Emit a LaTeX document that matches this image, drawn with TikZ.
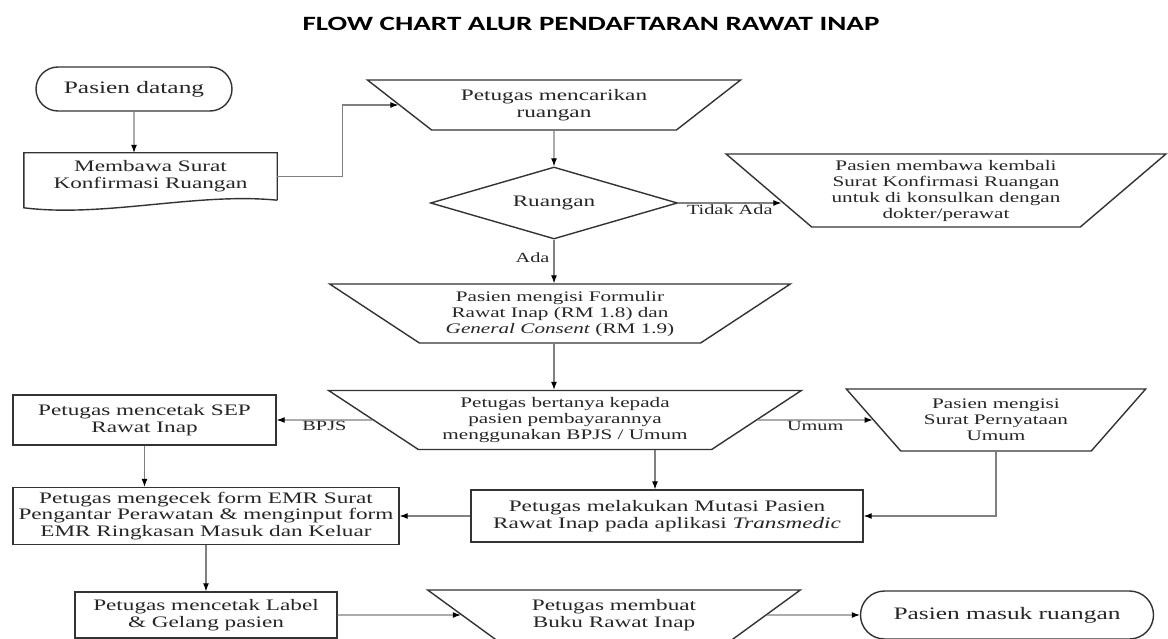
\documentclass[tikz,border=0pt]{standalone}
\usepackage{fontspec}
\setmainfont{Liberation Serif}[FakeStretch=1.45]
\newfontfamily\titlefont{Carlito}[FakeStretch=1.43]
\usetikzlibrary{shapes.geometric,shapes.misc,arrows.meta}

\begin{document}
\begin{tikzpicture}[
    x=1pt, y=-1pt,
    every node/.style={text=black!85, font=\fontsize{16}{16.7}\selectfont},
    outline/.style={draw=black!80, line width=1.4pt},
    base/.style={outline, align=center, inner sep=1pt},
    box/.style={base, rectangle},
    terminal/.style={base, rounded rectangle, font=\fontsize{17.5}{18}\selectfont},
    manual/.style={base, trapezium, shape border rotate=180, trapezium stretches=true},
    smalltext/.style={font=\fontsize{14.6}{16}\selectfont},
    decision/.style={base, diamond, inner sep=0pt},
    arrow/.style={-{Latex[length=8pt, width=6pt, color=black]}, draw=black!50, line width=1.1pt},
    lbl/.style={inner sep=1pt, font=\fontsize{14}{15}\selectfont}
]
\fill[white] (0,0) rectangle (1168,639);
\useasboundingbox (0,0) rectangle (1168,639);

% Title
\node[font=\titlefont\bfseries\fontsize{20.3}{24}\selectfont, text=black] (title) at (591,24) {FLOW CHART ALUR PENDAFTARAN RAWAT INAP};

% Start and document
\node[terminal, minimum width=198pt, minimum height=44pt] (pasien_datang) at (134,89) {Pasien datang};
\node[align=center, minimum width=253pt, minimum height=47pt, inner sep=0pt] (surat_konfirmasi) at (150.5,176.5) {Membawa Surat\\Konfirmasi Ruangan};
\draw[outline] (surat_konfirmasi.south east) -- (surat_konfirmasi.north east) -- (surat_konfirmasi.north west) -- ++(0,55)
    .. controls +(80,10) and +(-80,-8) .. (surat_konfirmasi.south east);

% Room check
\node[manual, minimum width=374pt, minimum height=50pt, trapezium angle=34] (cari_ruangan) at (554,105) {Petugas mencarikan\\ruangan};
\node[decision, minimum width=247pt, minimum height=72pt, aspect=3.43] (cek_ruangan) at (554,203) {Ruangan};
\node[manual, smalltext, minimum width=441pt, minimum height=73pt, trapezium angle=40.7] (kembali_surat) at (946,190.5) {Pasien membawa kembali\\Surat Konfirmasi Ruangan\\untuk di konsulkan dengan\\dokter/perawat};
\node[manual, smalltext, minimum width=462pt, minimum height=59pt, trapezium angle=32.7] (isi_formulir) at (560,313.5) {Pasien mengisi Formulir\\Rawat Inap (RM 1.8) dan\\\textit{General Consent} (RM 1.9)};

% Payment
\node[manual, smalltext, minimum width=474pt, minimum height=59pt, trapezium angle=32] (tanya_bayar) at (565,420) {Petugas bertanya kepada\\pasien pembayarannya\\menggunakan BPJS / Umum};
\node[box, minimum width=263pt, minimum height=50pt] (cetak_sep) at (144.5,420) {Petugas mencetak SEP\\Rawat Inap};
\node[manual, smalltext, minimum width=300pt, minimum height=62pt, trapezium angle=46.4] (isi_pernyataan) at (996,420) {Pasien mengisi\\Surat Pernyataan\\Umum};
\node[box, minimum width=392pt, minimum height=52pt] (mutasi_pasien) at (667,516) {Petugas melakukan Mutasi Pasien\\Rawat Inap pada aplikasi \textit{Transmedic}};
\node[box, minimum width=386pt, minimum height=57pt] (cek_emr) at (206,516) {Petugas mengecek form EMR Surat\\Pengantar Perawatan \& menginput form\\EMR Ringkasan Masuk dan Keluar};

% Bottom row
\node[box, minimum width=262pt, minimum height=46pt] (cetak_label) at (206,615) {Petugas mencetak Label\\\& Gelang pasien};
\node[manual, minimum width=374pt, minimum height=50pt, trapezium angle=34.4] (buku_inap) at (614,615) {Petugas membuat\\Buku Rawat Inap};
\node[terminal, minimum width=295pt, minimum height=48pt] (masuk_ruangan) at (1007,615) {Pasien masuk ruangan};

% Arrows - top
\draw[arrow] (pasien_datang) -- (pasien_datang |- surat_konfirmasi.north);
\draw[arrow] (surat_konfirmasi.east) -- ++(65,0) |- (cari_ruangan);
\draw[arrow] (cari_ruangan) -- (cek_ruangan);
\draw[arrow] (cek_ruangan.east) -- node[lbl, below]{Tidak Ada} (cek_ruangan.east -| kembali_surat.184);
\draw[arrow] (cek_ruangan) -- node[lbl, left, pos=0.42, inner sep=4pt]{Ada} (cek_ruangan |- isi_formulir.90);
\draw[arrow] (cek_ruangan |- isi_formulir.270) -- (cek_ruangan |- tanya_bayar.90);

% Arrows - payment
\draw[arrow] (tanya_bayar) -- node[lbl, below]{BPJS} (cetak_sep);
\draw[arrow] (tanya_bayar) -- node[lbl, below]{Umum} (isi_pernyataan);
\coordinate (mutasi_in) at ([xshift=-12pt]mutasi_pasien.north);
\draw[arrow] (mutasi_in |- tanya_bayar.270) -- (mutasi_in);
\draw[arrow] (isi_pernyataan) |- (mutasi_pasien);
\draw[arrow] (mutasi_pasien) -- (cek_emr);
\draw[arrow] (cetak_sep) -- (cetak_sep |- cek_emr.north);

% Arrows - bottom
\draw[arrow] (cek_emr) -- (cetak_label);
\draw[arrow] (cetak_label) -- (buku_inap);
\draw[arrow] (buku_inap) -- (masuk_ruangan);

\end{tikzpicture}
\end{document}
